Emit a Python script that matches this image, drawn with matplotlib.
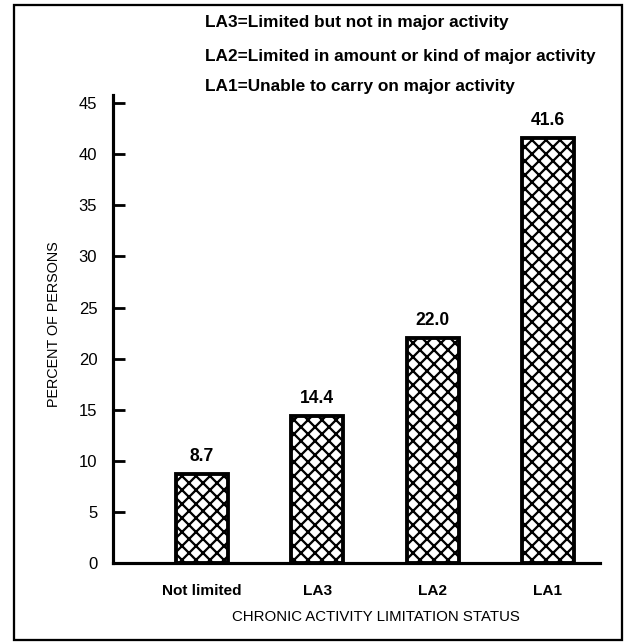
import matplotlib
matplotlib.use("Agg")
import matplotlib.pyplot as plt
from matplotlib.patches import Rectangle

# Data
categories = ["Not limited", "LA3", "LA2", "LA1"]
percents = [8.7, 14.4, 22.0, 41.6]
value_labels = ["8.7", "14.4", "22.0", "41.6"]
yticks = [0, 5, 10, 15, 20, 25, 30, 35, 40, 45]
notes = [
    "LA3=Limited but not in major activity",
    "LA2=Limited in amount or kind of major activity",
    "LA1=Unable to carry on major activity",
]

DPI = 126
W, H = 632, 644
plt.rcParams["font.family"] = ["Liberation Sans", "DejaVu Sans"]
plt.rcParams["hatch.linewidth"] = 1.3
plt.rcParams["hatch.color"] = "black"

fig = plt.figure(figsize=(W / DPI, H / DPI), dpi=DPI)
ax = fig.add_axes([113 / W, 1 - 563 / H, 487 / W, 468 / H])

x = range(len(categories))
ax.bar(x, percents, width=0.45, color="white", edgecolor="black",
       linewidth=2.2, hatch="xxx", zorder=2)

for xi, val, lab in zip(x, percents, value_labels):
    ax.annotate(lab, (xi, val), xytext=(0, 5), textcoords="offset points",
                ha="center", va="bottom", fontsize=10, fontweight="bold")

ax.set_xlim(-0.772, 3.451)
ax.set_ylim(0, 45.8)
ax.set_yticks(yticks)
ax.set_xticks(list(x))
ax.set_xticklabels(categories, fontsize=8.8, fontweight="bold")
ax.tick_params(axis="y", direction="in", length=7, width=1.6, pad=9,
               labelsize=9.5)
ax.tick_params(axis="x", length=0, pad=12)

for s in ["top", "right"]:
    ax.spines[s].set_visible(False)
for s in ["left", "bottom"]:
    ax.spines[s].set_linewidth(1.8)

ax.set_ylabel("PERCENT OF PERSONS", fontsize=8.2)
ax.yaxis.set_label_coords((54 - 113) / 487, (563 - 324) / 468)
ax.yaxis.label.set_va("center")
ax.set_xlabel("CHRONIC ACTIVITY LIMITATION STATUS", fontsize=8.6)
ax.xaxis.set_label_coords((376 - 113) / 487, (563 - 617) / 468)
ax.xaxis.label.set_va("center")

for yy, txt in zip([22, 56, 87], notes):
    fig.text(205 / W, 1 - yy / H, txt, ha="left", va="center",
             fontsize=9.9, fontweight="bold")

# box around the whole figure
fig.patches.append(Rectangle((14 / W, 1 - 640 / H), 608 / W, 635 / H,
                             transform=fig.transFigure, fill=False,
                             edgecolor="black", linewidth=1.3))

fig.savefig("out.png", dpi=DPI)
